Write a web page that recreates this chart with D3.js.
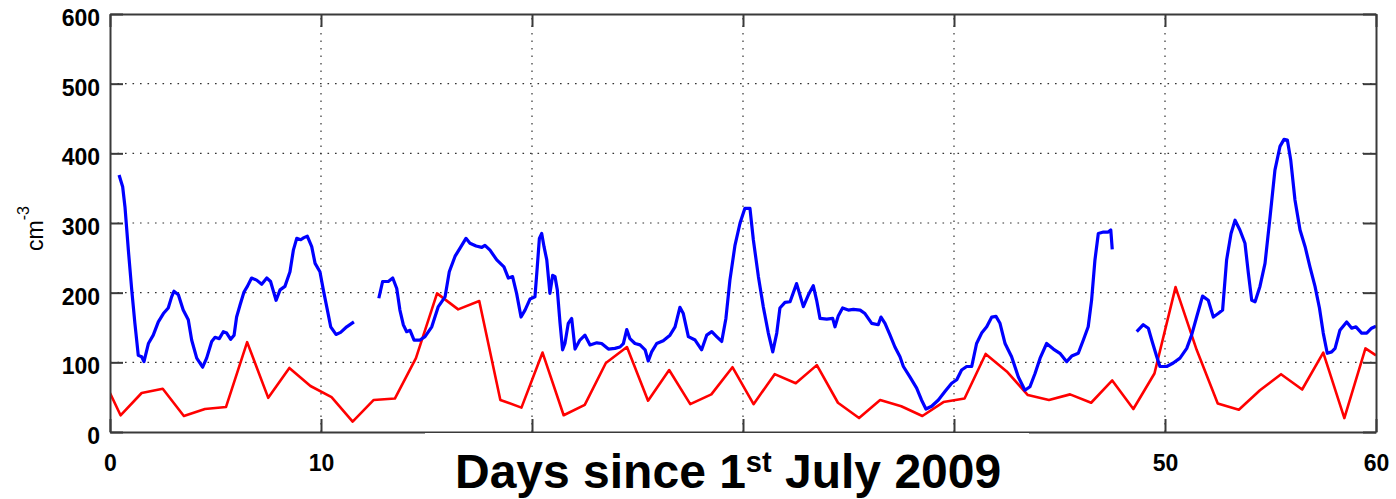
<!DOCTYPE html>
<html>
<head>
<meta charset="utf-8">
<script src="https://cdn.jsdelivr.net/npm/d3@7"></script>
<style>
  body { margin: 0; background: #fff; }
  svg { display: block; }
</style>
</head>
<body>
<div id="chart"></div>
<script>
// Axis ticks
const xTicks = [0, 10, 20, 30, 40, 50, 60];
const yTicks = [0, 100, 200, 300, 400, 500, 600];
// labels 20/30/40 sit under the title box in the original
const hiddenXLabels = [20, 30, 40];

// Red series (roughly one point per day)
const redDays = [0, 0.5, 1.5, 2.5, 3.5, 4.5, 5.5, 6.5, 7.5, 8.5, 9.5, 10.5, 11.5, 12.5, 13.5, 14.5, 15.5, 16.5, 17.5, 18.5, 19.5,
  20.5, 21.5, 22.5, 23.5, 24.5, 25.5, 26.5, 27.5, 28.5, 29.5, 30.5, 31.5, 32.5, 33.5, 34.5, 35.5, 36.5, 37.5, 38.5, 39.5,
  40.5, 41.5, 42.5, 43.5, 44.5, 45.5, 46.5, 47.5, 48.5, 49.5, 50.5, 51.5, 52.5, 53.5, 54.5, 55.5, 56.5, 57.5, 58.5, 59.5, 60];
const redVals = [56, 24, 56, 62, 23, 33, 36, 129, 49, 92, 66, 50, 15, 46, 48, 106, 199, 176, 188, 46, 35,
  114, 24, 39, 99, 122, 45, 89, 40, 54, 93, 40, 83, 70, 96, 42, 20, 46, 37, 23, 43,
  48, 112, 87, 53, 46, 54, 42, 74, 33, 84, 208, 118, 41, 32, 60, 83, 61, 114, 20, 120, 110];

// Blue series (null = gap in the record)
const blueDays = [
  0.43, 0.6, 0.71, 0.87, 1.03, 1.18, 1.34, 1.5, 1.61, 1.82, 2.05, 2.29, 2.53, 2.76, 2.92, 3.03, 3.24, 3.47, 3.71, 3.87,
  4.11, 4.39, 4.58, 4.82, 4.98, 5.18, 5.37, 5.53, 5.72, 5.88, 6.0, 6.16, 6.35, 6.51, 6.71, 6.95, 7.19, 7.43, 7.61, 7.87,
  8.06, 8.29, 8.53, 8.69, 8.85, 9.04, 9.19, 9.35, 9.56, 9.72, 9.95, 10.11, 10.27, 10.46, 10.71, 10.93, 11.22, 11.56,
  12.2,
  12.74, 12.92, 13.19, 13.4, 13.59, 13.74, 13.9, 14.06, 14.22, 14.41, 14.69, 14.93, 15.25, 15.56, 15.88, 16.08, 16.35, 16.59,
  16.87, 17.06, 17.35, 17.62, 17.77, 18.01, 18.33, 18.67, 18.88, 19.08, 19.27, 19.48, 19.67, 19.91, 20.14, 20.25, 20.35, 20.46,
  20.57, 20.7, 20.85, 20.98, 21.09, 21.2, 21.33, 21.45, 21.56, 21.72, 21.88, 22.04, 22.27, 22.51, 22.75, 23.07, 23.3, 23.62,
  23.93, 24.17, 24.33, 24.49, 24.64, 24.88, 25.12, 25.36, 25.51, 25.67, 25.91, 26.22, 26.54, 26.78, 27.01, 27.17, 27.41, 27.73,
  28.04, 28.28, 28.52, 28.75, 28.99, 29.19, 29.38, 29.62, 29.86, 30.09, 30.33, 30.49, 30.73, 30.96, 31.2, 31.41, 31.6, 31.75,
  31.99, 32.23, 32.54, 32.86, 33.1, 33.33, 33.49, 33.65, 33.97, 34.25, 34.36, 34.52, 34.72, 34.99, 35.23, 35.55, 35.78, 36.1,
  36.41, 36.54, 36.73, 36.97, 37.2, 37.44, 37.6, 37.91, 38.23, 38.46, 38.67, 38.94, 39.26, 39.57, 39.89, 40.13, 40.36, 40.6,
  40.84, 41.07, 41.31, 41.55, 41.79, 41.99, 42.18, 42.42, 42.73, 43.05, 43.36, 43.6, 43.84, 44.08, 44.39, 44.71, 45.02, 45.34,
  45.58, 45.89, 46.13, 46.36, 46.52, 46.68, 46.84, 47.08, 47.31, 47.43, 47.5,
  48.1,
  48.66, 48.97, 49.21, 49.37, 49.61, 49.76, 50.08, 50.39, 50.71, 51.03, 51.26, 51.5, 51.78, 52.05, 52.29, 52.52, 52.73, 52.92,
  53.13, 53.32, 53.55, 53.79, 53.95, 54.11, 54.27, 54.5, 54.74, 54.98, 55.21, 55.45, 55.64, 55.8, 55.96, 56.16, 56.4, 56.64,
  56.87, 57.11, 57.32, 57.5, 57.69, 57.9, 58.06, 58.29, 58.61, 58.85, 59.05, 59.32, 59.56, 59.79, 60];
const blueVals = [
  369, 352, 323, 261, 204, 156, 110, 108, 101, 127, 139, 158, 170, 178, 194, 202, 197, 175, 161, 132,
  106, 93, 106, 130, 136, 134, 144, 142, 133, 139, 165, 182, 201, 209, 221, 218, 212, 221, 216, 189,
  204, 209, 230, 261, 278, 276, 279, 281, 266, 242, 230, 204, 180, 151, 140, 143, 151, 158,
  null,
  192, 216, 216, 221, 206, 175, 154, 144, 146, 132, 132, 137, 151, 180, 194, 230, 252, 264,
  278, 271, 267, 265, 268, 261, 247, 237, 221, 223, 199, 165, 175, 191, 194, 237, 278, 285,
  266, 247, 199, 225, 223, 204, 156, 118, 127, 156, 163, 119, 132, 139, 125, 128, 127, 119,
  120, 122, 127, 147, 134, 127, 125, 118, 102, 115, 127, 131, 139, 151, 179, 170, 137, 132,
  118, 139, 144, 137, 130, 163, 218, 268, 300, 321, 321, 276, 223, 180, 142, 115, 142, 178,
  186, 187, 213, 180, 197, 210, 189, 163, 162, 163, 151, 167, 178, 175, 176, 175, 170, 156,
  154, 165, 156, 139, 122, 108, 94, 79, 63, 46, 33, 37, 46, 58, 70, 75, 89, 94,
  94, 127, 142, 151, 165, 166, 156, 127, 108, 79, 60, 65, 84, 106, 127, 119, 113, 101,
  109, 113, 132, 151, 189, 247, 285, 287, 287, 290, 262,
  null,
  144, 154, 149, 132, 108, 94, 94, 99, 106, 120, 139, 165, 195, 189, 165, 170, 175, 247,
  285, 304, 290, 271, 228, 189, 187, 209, 242, 309, 376, 410, 420, 419, 390, 333, 290, 266,
  237, 209, 178, 142, 113, 115, 120, 146, 158, 149, 151, 142, 142, 149, 152];

const width = 1396;
const height = 499;
const font = "'Liberation Sans', Arial, Helvetica, sans-serif";

const svg = d3.select("#chart")
  .append("svg")
  .attr("width", width)
  .attr("height", height);

const x = d3.scaleLinear().domain([0, 60]).range([110, 1376]);
const y = d3.scaleLinear().domain([0, 600]).range([432, 14]);

// dotted grid
const grid = svg.append("g")
  .attr("stroke", "#333")
  .attr("stroke-width", 1.2)
  .attr("stroke-dasharray", "1.6,5.9");

grid.selectAll(".vgrid")
  .data(xTicks.filter(d => d > 0 && d < 60))
  .enter().append("line")
  .attr("x1", d => x(d)).attr("x2", d => x(d))
  .attr("y1", y(0)).attr("y2", y(600));

grid.selectAll(".hgrid")
  .data(yTicks.filter(d => d > 0 && d < 600))
  .enter().append("line")
  .attr("x1", x(0)).attr("x2", x(60))
  .attr("y1", d => y(d)).attr("y2", d => y(d));

// clip the lines to the box
svg.append("clipPath").attr("id", "plotclip")
  .append("rect")
  .attr("x", x(0)).attr("y", y(600))
  .attr("width", x(60) - x(0)).attr("height", y(0) - y(600));

const plot = svg.append("g").attr("clip-path", "url(#plotclip)");

const blueLine = d3.line()
  .defined((d, i) => blueVals[i] !== null)
  .x((d, i) => x(blueDays[i]))
  .y((d, i) => y(blueVals[i]));

const redLine = d3.line()
  .x((d, i) => x(redDays[i]))
  .y((d, i) => y(redVals[i]));

plot.append("path")
  .attr("d", redLine(redDays))
  .attr("fill", "none")
  .attr("stroke", "#ff0000")
  .attr("stroke-width", 2.6)
  .attr("stroke-linejoin", "round");

plot.append("path")
  .attr("d", blueLine(blueDays))
  .attr("fill", "none")
  .attr("stroke", "#0000ff")
  .attr("stroke-width", 3.2)
  .attr("stroke-linejoin", "round");

// axes, ticks pointing inwards on all four sides
const tickLen = 13;

const xAxis = svg.append("g")
  .attr("transform", "translate(0," + y(0) + ")")
  .call(d3.axisBottom(x).tickValues(xTicks).tickSize(-tickLen).tickSizeOuter(0).tickPadding(23)
    .tickFormat(d => hiddenXLabels.includes(d) ? "" : d));

const xTop = svg.append("g")
  .attr("transform", "translate(0," + y(600) + ")")
  .call(d3.axisTop(x).tickValues(xTicks).tickSize(-tickLen).tickSizeOuter(0).tickFormat(""));

const yAxis = svg.append("g")
  .attr("transform", "translate(" + x(0) + ",0)")
  .call(d3.axisLeft(y).tickValues(yTicks).tickSize(-tickLen).tickSizeOuter(0).tickPadding(10));

const yRight = svg.append("g")
  .attr("transform", "translate(" + x(60) + ",0)")
  .call(d3.axisRight(y).tickValues(yTicks).tickSize(-tickLen).tickSizeOuter(0).tickFormat(""));

[xAxis, xTop, yAxis, yRight].forEach(function (g) {
  g.select(".domain").attr("stroke", "#3a3a3a").attr("stroke-width", 2);
  g.selectAll(".tick line").attr("stroke", "#3a3a3a").attr("stroke-width", 2);
  g.selectAll("text")
    .attr("font-family", font)
    .attr("font-size", 23)
    .attr("font-weight", "bold")
    .attr("fill", "#000");
});

yAxis.selectAll("text").attr("y", 4);

// y label cm^-3
const ylab = svg.append("text")
  .attr("transform", "translate(43,251) rotate(-90)")
  .attr("font-family", font)
  .attr("font-size", 23)
  .attr("fill", "#000");
ylab.append("tspan").text("cm");
ylab.append("tspan").attr("font-size", 16).attr("dy", -14).text("-3");

// title box pasted over the bottom of the axis
svg.append("rect")
  .attr("x", 425).attr("y", 433)
  .attr("width", 1029 - 425).attr("height", height - 433)
  .attr("fill", "#fff");

const title = svg.append("text")
  .attr("x", 455)
  .attr("y", 488)
  .attr("font-family", font)
  .attr("font-size", 48)
  .attr("font-weight", "bold")
  .attr("fill", "#000");
title.append("tspan").text("Days since 1");
title.append("tspan").attr("font-size", 29).attr("dy", -16).text("st");
title.append("tspan").attr("dy", 16).text(" July 2009");
</script>
</body>
</html>
